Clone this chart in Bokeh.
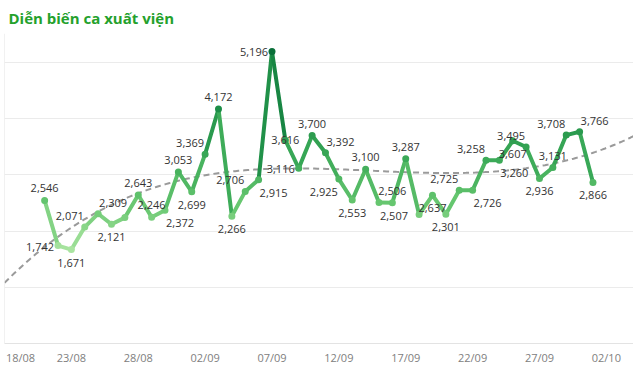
import numpy as np
import pandas as pd
from bokeh.plotting import figure
from bokeh.models import ColumnDataSource, FixedTicker, Span
from bokeh.core.properties import value
from bokeh.embed import file_html
from bokeh.resources import INLINE

# ---------------- data ----------------
title_text = "Diễn biến ca xuất viện"
start_date = "2021-08-21"
end_date = "2021-10-01"
discharges = [2546, 1742, 1671, 2071, 2309, 2121, 2240, 2643, 2246, 2372,
              3053, 2699, 3369, 4172, 2266, 2706, 2915, 5196, 3616, 3116,
              3700, 3392, 2925, 2553, 3100, 2507, 2506, 3287, 2295, 2637,
              2301, 2725, 2726, 3258, 3260, 3607, 3495, 2936, 3131, 3708,
              3766, 2866]
tick_labels = ["18/08", "23/08", "28/08", "02/09", "07/09", "12/09",
               "17/09", "22/09", "27/09", "02/10"]
tick_dates = ["2021-08-18", "2021-08-23", "2021-08-28", "2021-09-02",
              "2021-09-07", "2021-09-12", "2021-09-17", "2021-09-22",
              "2021-09-27", "2021-10-02"]
# trend line (polynomial) at some dates
trend_dates = ["2021-08-18", "2021-08-21", "2021-08-25", "2021-08-30",
               "2021-09-03", "2021-09-08", "2021-09-14", "2021-09-20",
               "2021-09-26", "2021-10-01", "2021-10-04"]
trend_values = [1121, 1646, 2358, 2861, 3021, 3117, 3070, 3039, 3128, 3360,
                3705]

# label placement style for each point (a=above, b=below, l=left, c=center,
# al/ar = above left/right, bl/br = below left/right, n = hidden)
label_pos = ["a", "l", "b", "al", "ar", "b", "n", "a", "a", "br",
             "a", "b", "al", "a", "b", "al", "br", "l", "c", "l",
             "a", "ar", "bl", "b", "a", "br", "a", "a", "n", "b",
             "b", "al", "br", "al", "br", "b", "al", "b", "a", "al",
             "ar", "b"]

# ---------------- derived ----------------
origin = pd.Timestamp(tick_dates[0])
dates = pd.date_range(start_date, end_date, freq="D")
xd = np.array([(d - origin).days for d in dates], dtype=float)
yv = np.array(discharges, dtype=float)

stops_v = [1671, 2500, 3300, 4200, 5196]
stops_c = ["#a9e4a0", "#66c66f", "#3aa957", "#1c8c46", "#0a6f39"]


def hex2rgb(h):
    return [int(h[i:i + 2], 16) for i in (1, 3, 5)]


def color_for(v):
    rgbs = np.array([hex2rgb(c) for c in stops_c], dtype=float)
    r = np.interp(v, stops_v, rgbs[:, 0])
    g = np.interp(v, stops_v, rgbs[:, 1])
    b = np.interp(v, stops_v, rgbs[:, 2])
    return "#%02x%02x%02x" % (int(round(r)), int(round(g)), int(round(b)))


x0_range, x1_range = 0.0, 47.03
p = figure(frame_width=629, frame_height=310, output_backend="svg",
           toolbar_location=None,
           x_range=(x0_range, x1_range), y_range=(0, 5515),
           min_border_left=4, min_border_right=0, min_border_top=0,
           min_border_bottom=0)
p.outline_line_color = None
p.background_fill_color = "white"
p.border_fill_color = "white"

p.title.text = title_text
p.title.text_font = "Open Sans"
p.title.text_font_style = "bold"
p.title.text_font_size = "15px"
p.title.text_color = "#24a12c"
p.title.align = "left"
p.title.offset = 4
p.title.standoff = 11

# left axis line
p.add_layout(Span(location=x0_range, dimension="height",
                  line_color="#e3e3e3", line_width=1))

# trend line (cubic, fitted to the values)
td = np.array([(pd.Timestamp(d) - origin).days for d in trend_dates], float)
coef = np.polyfit(td, np.array(trend_values, float), 3)
xt = np.linspace(x0_range, x1_range, 200)
p.line(xt, np.polyval(coef, xt), line_color="#9a9a9a", line_width=2,
       line_dash="6 4")

# coloured line segments
seg = ColumnDataSource(dict(
    x0=xd[:-1], y0=yv[:-1], x1=xd[1:], y1=yv[1:],
    c=[color_for((a + b) / 2) for a, b in zip(yv[:-1], yv[1:])]))
p.segment("x0", "y0", "x1", "y1", source=seg, line_color="c", line_width=4,
          line_cap="round")

pts = ColumnDataSource(dict(x=xd, y=yv, c=[color_for(v) for v in yv]))
p.scatter("x", "y", source=pts, size=7, fill_color="c", line_color=None)

# labels
offs = {"a": (0, -12, "center"), "b": (0, 13, "center"),
        "al": (-15, -11, "center"), "ar": (15, -11, "center"),
        "bl": (-15, 13, "center"), "br": (15, 13, "center"),
        "l": (-4, 1, "right"), "c": (0, 0, "center")}
keep = [i for i, k in enumerate(label_pos) if k != "n"]
lab = ColumnDataSource(dict(
    x=xd[keep], y=yv[keep],
    t=[f"{discharges[i]:,}" for i in keep],
    dx=[offs[label_pos[i]][0] for i in keep],
    dy=[offs[label_pos[i]][1] for i in keep],
    al=[offs[label_pos[i]][2] for i in keep]))
p.text("x", "y", text="t", source=lab, x_offset="dx", y_offset="dy",
       text_align="al", text_baseline="middle", text_font=value("Open Sans"),
       text_font_size="11px", text_color="#333333")

# axes
tick_pos = [float((pd.Timestamp(d) - origin).days) for d in tick_dates]
tick_pos[0] = tick_pos[0] + 1.2  # keep first label inside the canvas
p.xaxis.ticker = FixedTicker(ticks=tick_pos)
p.xaxis.major_label_overrides = {t: l for t, l in zip(tick_pos, tick_labels)}
p.xaxis.major_tick_line_color = None
p.xaxis.major_tick_out = 0
p.xaxis.major_tick_in = 0
p.xaxis.minor_tick_line_color = None
p.xaxis.axis_line_color = "#e3e3e3"
p.xaxis.major_label_text_font = "Open Sans"
p.xaxis.major_label_text_font_size = "11px"
p.xaxis.major_label_text_color = "#808080"
p.xaxis.major_label_standoff = 6
p.xgrid.grid_line_color = None

p.yaxis.ticker = FixedTicker(ticks=[0, 1000, 2000, 3000, 4000, 5000])
p.yaxis.visible = False
p.ygrid.grid_line_color = "#ebebeb"

open("out.html", "w").write(file_html(p, INLINE))
